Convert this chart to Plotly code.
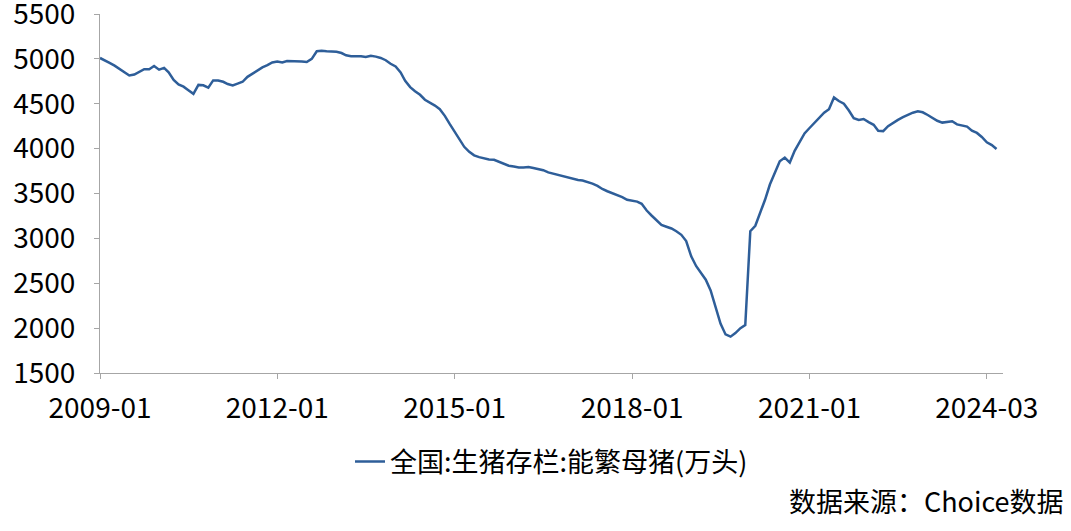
import pandas as pd
import plotly.graph_objects as go

start_month = "2009-01"
values = [
    # 2009
    5010, 4985, 4955, 4925, 4890, 4850, 4815, 4825, 4860, 4885, 4885, 4920,
    # 2010
    4880, 4900, 4850, 4765, 4715, 4690, 4650, 4610, 4710, 4705, 4680, 4760,
    # 2011
    4760, 4745, 4720, 4705, 4725, 4745, 4800, 4835, 4870, 4905, 4930, 4960,
    # 2012
    4970, 4960, 4975, 4975, 4970, 4970, 4965, 5000, 5085, 5090, 5085, 5085,
    # 2013
    5080, 5065, 5040, 5030, 5030, 5030, 5020, 5035, 5025, 5010, 4985, 4945,
    # 2014
    4915, 4850, 4755, 4685, 4640, 4600, 4545, 4515, 4480, 4440, 4365, 4275,
    # 2015
    4190, 4095, 4020, 3965, 3925, 3905, 3890, 3880, 3875, 3855, 3830, 3810,
    # 2016
    3800, 3790, 3790, 3795, 3785, 3775, 3760, 3735, 3720, 3710, 3695, 3680,
    # 2017
    3665, 3650, 3645, 3630, 3610, 3585, 3550, 3525, 3505, 3485, 3460, 3430,
    # 2018
    3420, 3410, 3385, 3310, 3255, 3205, 3150, 3130, 3110, 3080, 3040, 2970,
    # 2019
    2800, 2690, 2620, 2540, 2420, 2240, 2050, 1930, 1905, 1945, 2000, 2035,
    # 2020
    3080, 3140, 3280, 3430, 3600, 3730, 3860, 3900, 3845, 3975, 4080, 4170,
    # 2021
    4230, 4290, 4350, 4400, 4440, 4570, 4530, 4500, 4425, 4340, 4320, 4330,
    # 2022
    4295, 4265, 4200, 4195, 4250, 4290, 4320, 4350, 4380, 4400, 4415, 4405,
    # 2023
    4375, 4340, 4310, 4290, 4300, 4305, 4270, 4260, 4245, 4200, 4175, 4130,
    # 2024
    4070, 4040, 3995,
]
months = pd.date_range(start_month, periods=len(values), freq="MS")

tick_dates = ["2009-01-01", "2012-01-01", "2015-01-01", "2018-01-01", "2021-01-01", "2024-01-01"]
tick_labels = ["2009-01", "2012-01", "2015-01", "2018-01", "2021-01", "2024-03"]
y_ticks = [1500, 2000, 2500, 3000, 3500, 4000, 4500, 5000, 5500]

series_name = "全国:生猪存栏:能繁母猪(万头)"
source_text = "数据来源：Choice数据"

FONT = "Noto Sans CJK SC, Microsoft YaHei, sans-serif"
LINE_COLOR = "#2E5E99"
AXIS_COLOR = "#A6A6A6"

fig = go.Figure()
fig.add_trace(go.Scatter(
    x=months, y=values, mode="lines", name=series_name,
    line=dict(color=LINE_COLOR, width=2.5),
))

fig.update_layout(
    width=1071, height=531,
    margin=dict(l=100, r=68, t=14, b=158, autoexpand=False),
    paper_bgcolor="white", plot_bgcolor="white",
    font=dict(family=FONT, size=27, color="#000000"),
    showlegend=True,
    legend=dict(
        orientation="h", x=0.5, xanchor="center", y=-0.248, yanchor="middle",
        font=dict(family=FONT, size=27, color="#000000"),
        bgcolor="rgba(0,0,0,0)", itemwidth=30,
    ),
    annotations=[dict(
        text=source_text, xref="paper", yref="paper",
        x=1.069, xanchor="right", y=-0.354, yanchor="middle",
        showarrow=False, font=dict(family=FONT, size=27, color="#000000"),
    )],
)

fig.update_xaxes(
    type="date", automargin=False,
    range=["2009-01-01", "2024-04-10"],
    tickvals=tick_dates, ticktext=tick_labels,
    showgrid=False, zeroline=False,
    showline=True, linecolor=AXIS_COLOR, linewidth=1,
    ticks="outside", ticklen=5, tickcolor=AXIS_COLOR,
    tickfont=dict(family=FONT, size=28, color="#000000"),
    ticklabelstandoff=5, ticklabeloverflow="allow",
)
fig.update_yaxes(
    range=[1500, 5500], automargin=False,
    tickvals=y_ticks,
    showgrid=False, zeroline=False,
    showline=True, linecolor=AXIS_COLOR, linewidth=1,
    ticks="outside", ticklen=5, tickcolor=AXIS_COLOR,
    tickfont=dict(family=FONT, size=28, color="#000000"),
    ticklabelstandoff=13, ticklabeloverflow="allow",
)

fig.write_html(
    "out.html",
    config={"displayModeBar": False},
    post_script="document.body.style.margin='0';document.body.style.padding='0';",
)
